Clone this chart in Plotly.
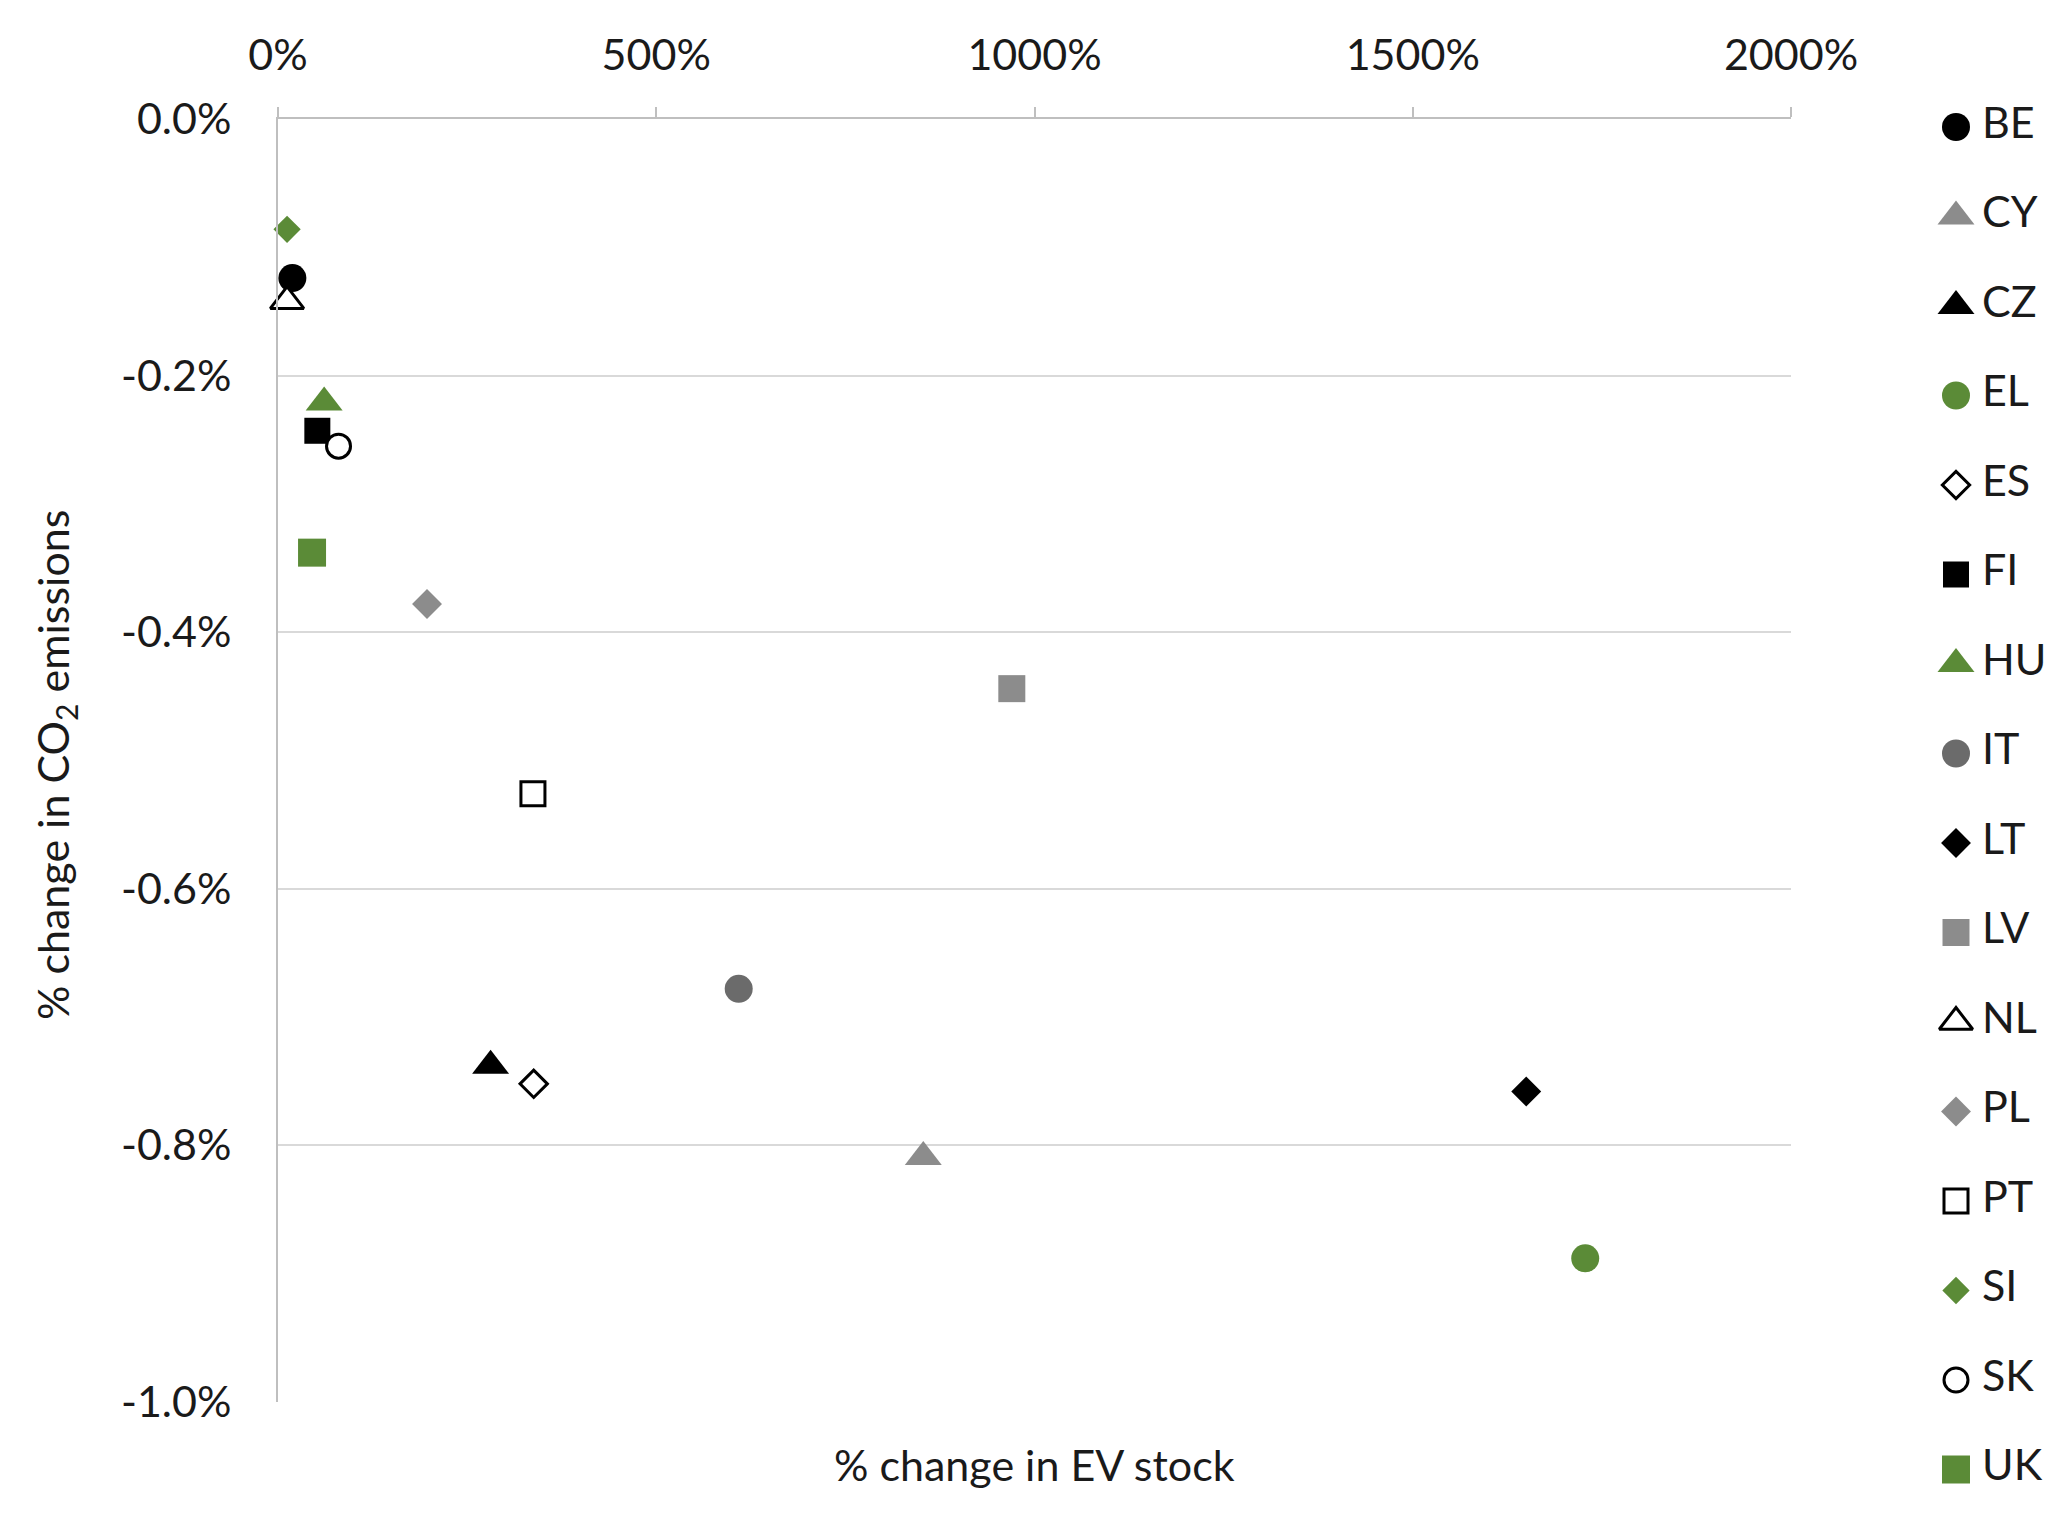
import plotly.graph_objects as go

countries = ["BE", "CY", "CZ", "EL", "ES", "FI", "HU", "IT", "LT", "LV", "NL", "PL", "PT", "SI", "SK", "UK"]
ev_change = [19, 853, 281, 1728, 338, 52, 61, 609, 1650, 970, 12, 197, 337, 12, 80, 45]
co2_change = [-0.124, -0.809, -0.738, -0.888, -0.752, -0.243, -0.221, -0.678, -0.758, -0.444,
              -0.142, -0.378, -0.526, -0.086, -0.255, -0.338]

x_ticks = [0, 500, 1000, 1500, 2000]
x_tick_labels = ["0%", "500%", "1000%", "1500%", "2000%"]
y_ticks = [0.0, -0.2, -0.4, -0.6, -0.8, -1.0]
y_tick_labels = ["0.0%", "-0.2%", "-0.4%", "-0.6%", "-0.8%", "-1.0%"]

GREEN = "#5b8b37"
GRAY = "#8c8c8c"
DGRAY = "#6b6b6b"
BLACK = "#000000"
WHITE = "#ffffff"

# symbol, fill, outline, size
styles = {
    "BE": ("circle", BLACK, None, 28),
    "CY": ("triangle-up", GRAY, None, 32),
    "CZ": ("triangle-up", BLACK, None, 32),
    "EL": ("circle", GREEN, None, 28),
    "ES": ("diamond", WHITE, BLACK, 21),
    "FI": ("square", BLACK, None, 26),
    "HU": ("triangle-up", GREEN, None, 32),
    "IT": ("circle", DGRAY, None, 28),
    "LT": ("diamond", BLACK, None, 23),
    "LV": ("square", GRAY, None, 27),
    "NL": ("triangle-up", WHITE, BLACK, 29),
    "PL": ("diamond", GRAY, None, 23),
    "PT": ("square", WHITE, BLACK, 24),
    "SI": ("diamond", GREEN, None, 21),
    "SK": ("circle", WHITE, BLACK, 24),
    "UK": ("square", GREEN, None, 28),
}

W, H = 2068, 1519
OFF = 8  # page body margin
# plot area in pixels (page coordinates minus body offset)
PX_L, PX_R, PX_T, PX_B = 278 - OFF, 1791 - OFF, 119 - OFF, 1402 - OFF
# legend layout (pixels)
LEG_X0 = 1920
LEG_MARK_X = 1956 - OFF
LEG_TEXT_X = 1982 - OFF
LEG_FIRST_Y = 127 - OFF
LEG_STEP = 89.5

FONT = "Lato, 'Open Sans', sans-serif"
TXT = "#1a1a1a"

def marker_for(c):
    sym, fill, outline, size = styles[c]
    m = dict(symbol=sym, color=fill, size=size)
    m["line"] = dict(color=outline, width=3) if outline else dict(width=0)
    return m

fig = go.Figure()
for i, c in enumerate(countries):
    fig.add_trace(go.Scatter(
        x=[ev_change[i]], y=[co2_change[i]], mode="markers", name=c,
        marker=marker_for(c), cliponaxis=False, showlegend=False,
        xaxis="x", yaxis="y",
    ))

# legend drawn on its own axes
leg_idx = list(range(len(countries)))
for i, c in enumerate(countries):
    fig.add_trace(go.Scatter(
        x=[LEG_MARK_X], y=[leg_idx[i]], mode="markers", marker=marker_for(c),
        showlegend=False, hoverinfo="skip", cliponaxis=False, xaxis="x2", yaxis="y2",
    ))
fig.add_trace(go.Scatter(
    x=[LEG_TEXT_X] * len(countries), y=leg_idx, mode="text", text=countries,
    textposition="middle right", textfont=dict(family=FONT, size=43, color=TXT),
    showlegend=False, hoverinfo="skip", cliponaxis=False, xaxis="x2", yaxis="y2",
))

y2_top = -LEG_FIRST_Y / LEG_STEP
y2_bot = (H - LEG_FIRST_Y) / LEG_STEP

fig.update_layout(
    width=W, height=H,
    margin=dict(l=0, r=0, t=0, b=0),
    paper_bgcolor="white", plot_bgcolor="white",
    font=dict(family=FONT, size=43, color=TXT),
    showlegend=False,
    xaxis=dict(
        domain=[PX_L / W, PX_R / W], anchor="y",
        side="top", range=[0, 2000], tickvals=x_ticks, ticktext=x_tick_labels,
        showgrid=False, zeroline=False, showline=True, linecolor="#bfbfbf", linewidth=2,
        ticks="outside", ticklen=10, tickcolor="#bfbfbf", tickwidth=2,
        ticklabelstandoff=20, automargin=False,
        tickfont=dict(family=FONT, size=43, color=TXT),
    ),
    yaxis=dict(
        domain=[1 - PX_B / H, 1 - PX_T / H], anchor="x",
        range=[-1.0, 0.0], tickvals=y_ticks, ticktext=y_tick_labels,
        showgrid=True, gridcolor="#d9d9d9", gridwidth=2, zeroline=False,
        showline=True, linecolor="#bfbfbf", linewidth=2, ticks="",
        ticklabelstandoff=36, automargin=False,
        tickfont=dict(family=FONT, size=43, color=TXT),
    ),
    xaxis2=dict(domain=[LEG_X0 / W, 1], range=[LEG_X0, W], anchor="y2",
                visible=False, fixedrange=True),
    yaxis2=dict(domain=[0, 1], range=[y2_bot, y2_top], anchor="x2",
                visible=False, fixedrange=True),
    annotations=[
        dict(text="% change in EV stock", xref="paper", yref="paper",
             x=(PX_L + PX_R) / 2 / W, y=1 - (1464 - OFF) / H,
             xanchor="center", yanchor="middle", showarrow=False,
             font=dict(family=FONT, size=43, color=TXT)),
        dict(text="% change in CO<sub>2</sub> emissions", xref="paper", yref="paper",
             x=(56 - OFF) / W, y=1 - (765 - OFF) / H, xanchor="center", yanchor="middle",
             textangle=-90, showarrow=False, font=dict(family=FONT, size=43, color=TXT)),
    ],
)

fig.write_html("out.html")
